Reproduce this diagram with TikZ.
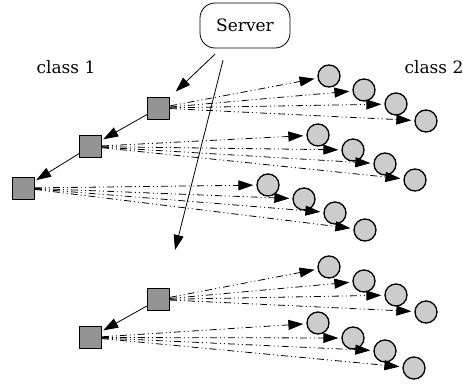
\documentclass[tikz,border=0pt]{standalone}
\usepackage{fontspec}
\setmainfont{DejaVu Serif}
\usetikzlibrary{arrows.meta}
\tikzset{
  sq/.style={draw=black, line width=0.8pt, fill=black!42, minimum size=22pt, inner sep=0pt},
  cl/.style={circle, draw=black, line width=1.3pt, fill=black!20, minimum size=22pt, inner sep=0pt},
  dd/.style={line width=0.8pt, dash pattern=on 7pt off 3pt on 1pt off 3pt on 1pt off 3pt, -{Triangle[length=15pt,width=10pt]}, shorten >=3pt},
  sa/.style={line width=0.8pt, -{Triangle[length=15pt,width=10pt]}},
  lab/.style={font=\fontsize{17}{20}\selectfont}
}
\begin{document}
\begin{tikzpicture}[x=1pt,y=-1pt]
\useasboundingbox (0,0) rectangle (463,383);
\node[draw, line width=0.8pt, rounded corners=15pt, minimum width=90pt, minimum height=45pt, lab] (server) at (245,25.5) {Server};
\node[lab] (c1) at (66,67) {class 1};
\node[lab] (c2) at (434,67) {class 2};

\node[sq] (s1) at (158.5,108) {};
\node[sq] (s2) at (90.5,146.5) {};
\node[sq] (s3) at (23.5,188) {};
\node[sq] (s4) at (158.5,299.5) {};
\node[sq] (s5) at (90.5,337.5) {};
\coordinate (mid) at (175,250);

\node[cl] (a1) at (329,76) {};
\node[cl] (a2) at (364,90) {};
\node[cl] (a3) at (396,104) {};
\node[cl] (a4) at (426,121) {};
\node[cl] (b1) at (318,135) {};
\node[cl] (b2) at (353,150) {};
\node[cl] (b3) at (385,164) {};
\node[cl] (b4) at (415,180) {};
\node[cl] (e1) at (268,185) {};
\node[cl] (e2) at (304,199) {};
\node[cl] (e3) at (335,213) {};
\node[cl] (e4) at (365,230) {};
\node[cl] (d1) at (329,267) {};
\node[cl] (d2) at (364,281) {};
\node[cl] (d3) at (396,295) {};
\node[cl] (d4) at (426,312) {};
\node[cl] (f1) at (318,323) {};
\node[cl] (f2) at (353,338) {};
\node[cl] (f3) at (385,351) {};
\node[cl] (f4) at (414,368) {};

\draw[sa, shorten <=8pt, shorten >=8pt] (server) -- (s1);
\draw[sa, shorten <=12pt] ([xshift=-19pt]server.south) -- (mid);
\draw[sa, shorten >=1.5pt] (s1) -- (s2);
\draw[sa, shorten >=1.5pt] (s2) -- (s3);
\draw[sa, shorten >=1.5pt] (s4) -- (s5);

\foreach \s/\c in {s1/a, s2/b, s3/e, s4/d, s5/f}{
  \foreach \i in {1,2,3,4}{
    \draw[dd] (\s) -- (\c\i);
  }
}
\end{tikzpicture}
\end{document}
